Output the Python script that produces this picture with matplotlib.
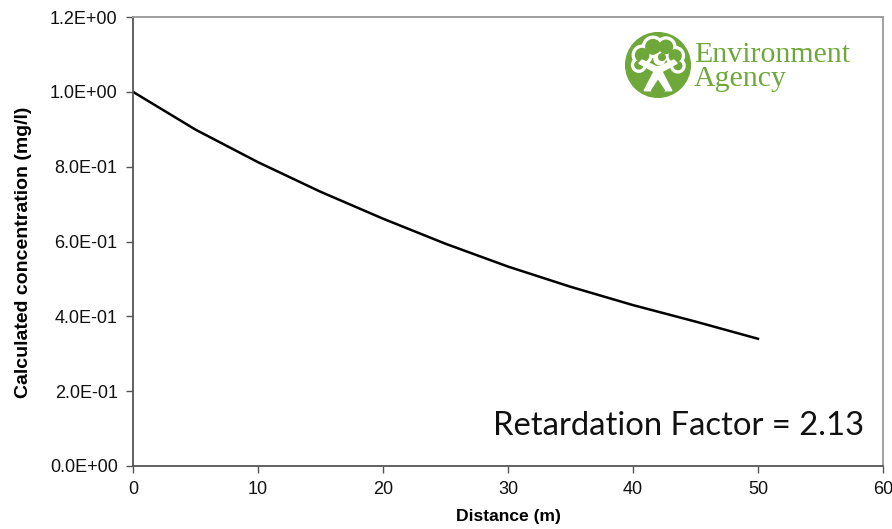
import matplotlib.pyplot as plt
import matplotlib.patches as mpatches
import numpy as np

# distance (m) and calculated concentration (mg/l)
distance = [0, 5, 10, 15, 20, 25, 30, 35, 40, 45, 50]
concentration = [1.0, 0.899, 0.812, 0.733, 0.661, 0.594, 0.533, 0.479, 0.430, 0.386, 0.340]

x_ticks = [0, 10, 20, 30, 40, 50, 60]
y_ticks = [0.0, 0.2, 0.4, 0.6, 0.8, 1.0, 1.2]

green = '#6fa83a'

fig = plt.figure(figsize=(8.92, 5.29), dpi=100)
fig.patch.set_facecolor('white')

ax = fig.add_axes([133/892, 1 - 466/529, 750/892, 449/529])
ax.plot(distance, concentration, c='#000000', lw=1.8)

ax.set_xlim(0, 60)
ax.set_ylim(0, 1.2)
ax.set_xticks(x_ticks)
ax.set_yticks(y_ticks)
ax.set_yticklabels(['%.1E' % v for v in y_ticks])
ax.tick_params(direction='out', length=5, width=1, color='#555555',
               labelsize=13, labelcolor='#111111', pad=6)
for lab in ax.get_xticklabels() + ax.get_yticklabels():
    lab.set_family('Liberation Sans')

for side in ['left', 'bottom']:
    ax.spines[side].set_color('#555555')
    ax.spines[side].set_linewidth(1.3)
for side in ['top', 'right']:
    ax.spines[side].set_color('#999999')
    ax.spines[side].set_linewidth(1.3)

ax.set_xlabel('Distance (m)', fontsize=12.6, fontweight='bold', family='Liberation Sans')
ax.xaxis.set_label_coords(0.5, -0.096)
ax.set_ylabel('Calculated concentration (mg/l)', fontsize=14, fontweight='bold',
              family='Liberation Sans')
ax.yaxis.set_label_coords(-0.134, 0.475)

ax.text(0.975, 0.069, 'Retardation Factor = 2.13', transform=ax.transAxes,
        ha='right', va='baseline', fontsize=23.6, family='Lato', color='#111111')

# logo: green disc with a simple white tree figure
lg = fig.add_axes([625/892, 1 - 98/529, 66/892, 66/529])
lg.set_xlim(-1, 1)
lg.set_ylim(-1, 1)
lg.set_aspect('equal')
lg.axis('off')
lg.add_patch(mpatches.Circle((0, 0), 0.98, color=green))
# crown: white cloud with green inside -> outline
crown = [(-0.48, 0.3, 0.3), (-0.15, 0.55, 0.32), (0.24, 0.55, 0.3), (0.52, 0.28, 0.28),
         (-0.58, 0.0, 0.22), (0.6, -0.02, 0.22)]
for cx, cy, r in crown:
    lg.add_patch(mpatches.Circle((cx, cy), r, color='white'))
for cx, cy, r in crown:
    lg.add_patch(mpatches.Circle((cx, cy), r - 0.1, color=green))
lg.add_patch(mpatches.Circle((0.05, 0.18), 0.17, color='white'))
lg.add_patch(mpatches.Circle((0.12, 0.24), 0.1, color=green))
# figure: arms and legs
lg.add_patch(mpatches.Polygon([(-0.58, 0.05), (-0.12, -0.2), (-0.42, -0.78), (-0.2, -0.78),
                               (0.0, -0.4), (0.2, -0.78), (0.42, -0.78), (0.12, -0.2),
                               (0.58, 0.05), (0.48, 0.15), (0.05, -0.05), (-0.05, -0.05),
                               (-0.48, 0.15)], closed=True, color='white'))
lg.add_patch(mpatches.Polygon([(-0.2, -0.78), (0.0, -0.48), (0.2, -0.78)], closed=True, color=green))

fig.text(694/892, 1 - 86/529, 'Environment\nAgency', fontsize=21.5, family='Liberation Serif',
         color=green, va='baseline', ha='left', linespacing=0.88)

plt.savefig('out.png', dpi=100, facecolor=fig.get_facecolor())
